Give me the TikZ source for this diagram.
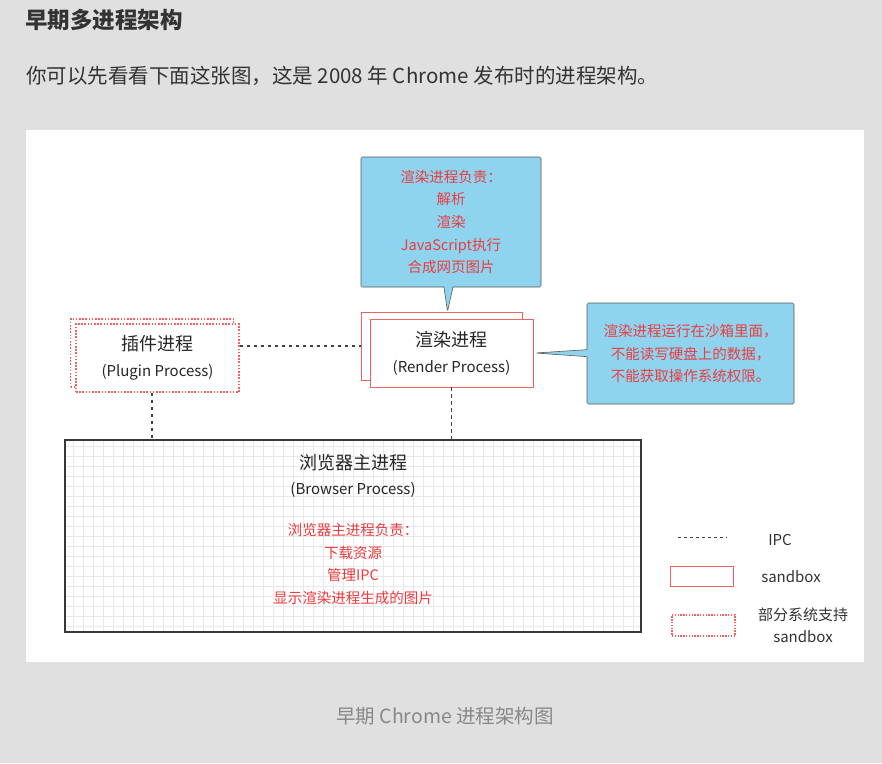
\documentclass[tikz,border=0pt]{standalone}
\usepackage{fontspec}
\setmainfont{Noto Sans CJK SC}
\usetikzlibrary{positioning}
\usetikzlibrary{shapes.callouts}
\definecolor{pagegray}{RGB}{224,224,224}
\definecolor{inkgray}{RGB}{51,51,51}
\definecolor{captiongray}{RGB}{136,136,136}
\definecolor{notered}{RGB}{236,60,64}
\definecolor{boxred}{RGB}{240,98,98}
\definecolor{noteblue}{RGB}{143,212,238}
\tikzset{
    proc/.style={draw=boxred, fill=white, line width=0.9pt, minimum width=163pt, minimum height=68pt, inner sep=0pt},
    partproc/.style={proc, dash pattern=on 1.6pt off 1.6pt, line width=1.3pt},
    proctext/.style={align=center, text=black!85, font=\fontsize{15}{26}\selectfont},
    ipc/.style={black!75, line width=1.2pt, dash pattern=on 3.4pt off 3.6pt},
    note/.style={rectangle callout, fill=noteblue, draw=black!65, line width=0.6pt, rounded corners=1.5pt,
        text=notered, align=center, inner sep=0pt, font=\fontsize{14.5}{22.7}\selectfont},
    gridline/.style={black!9, line width=0.45pt, step=10pt},
    legendtext/.style={text=inkgray, font=\fontsize{15}{22}\selectfont, align=center},
}
\newcommand{\bigline}[1]{{\fontsize{18}{26}\selectfont #1}}
\begin{document}
\begin{tikzpicture}[x=1pt, y=-1pt]
    \useasboundingbox[fill=pagegray] (0,0) rectangle (882,763);
    \node[anchor=west, inner sep=0pt, text=inkgray, font=\fontsize{22.5}{24}\selectfont\bfseries] (heading) at (25,20) {早期多进程架构};
    \node[anchor=west, inner sep=0pt, text=inkgray, font=\fontsize{20.5}{22}\selectfont] (intro) at (26,76) {你可以先看看下面这张图，这是 2008 年 Chrome 发布时的进程架构。};
    \fill[white] (26,130) rectangle (864,662);

    % processes
    \node[partproc] (pluginB) at (152,353) {};
    \node[partproc, proctext] (pluginF) at (157.5,358) {\bigline{插件进程}\\(Plugin Process)};
    \node[proc, minimum width=161pt] (renderB) at (441.5,346) {};
    \node[proc, proctext] (renderF) at (451.5,353) {\bigline{渲染进程}\\(Render Process)};
    \node[draw=black!78, line width=1.5pt, minimum width=576pt, minimum height=192pt, fill=white,
        path picture={\draw[gridline] (path picture bounding box.south west) grid (path picture bounding box.north east);}] (browser) at (353,536) {};
    \node[proctext, font=\fontsize{15}{25}\selectfont] (browsertitle) at (353,475.5) {\bigline{浏览器主进程}\\(Browser Process)};
    \node[align=center, text=notered, font=\fontsize{14.5}{22.7}\selectfont] (browserjob) at (353,564) {浏览器主进程负责：\\下载资源\\管理IPC\\显示渲染进程生成的图片};

    % ipc
    \draw[ipc] (renderB.west -| pluginF.east) -- (renderB.west);
    \draw[ipc] (pluginB.south |- pluginF.south) -- (pluginB.south |- browser.north);
    \draw[ipc] (renderF.south) -- (renderF.south |- browser.north);

    % notes
    \node[note, minimum width=180pt, minimum height=130pt, callout pointer width=9pt,
        callout absolute pointer={([xshift=6pt]renderB.north)}] (rendernote) at (451,222)
        {渲染进程负责：\\解析\\渲染\\JavaScript执行\\合成网页图片};
    \node[note, minimum width=207pt, minimum height=101pt, callout pointer width=7pt,
        callout absolute pointer={([xshift=2pt]renderF.east)}] (sandboxnote) at (690.5,353.5)
        {渲染进程运行在沙箱里面，\\不能读写硬盘上的数据，\\不能获取操作系统权限。};

    % legend
    \coordinate (ipcA) at (678,537);
    \coordinate (ipcB) at (727,537);
    \draw[ipc, line width=1pt, dash pattern=on 2.6pt off 3.4pt] (ipcA) -- (ipcB);
    \node[legendtext] (ipclabel) at (780,540) {IPC};
    \node[draw=boxred, line width=0.9pt, minimum width=63pt, minimum height=20pt, inner sep=0pt] (sandboxkey) at (701.5,576) {};
    \node[legendtext] (sandboxlabel) at (791,577) {sandbox};
    \node[draw=boxred, dash pattern=on 1.4pt off 1.4pt, line width=1.1pt, minimum width=63pt, minimum height=21pt, inner sep=0pt] (partkey) at (703.5,625.5) {};
    \node[legendtext] (partlabel) at (803,625) {部分系统支持\\sandbox};

    \node[text=captiongray, font=\fontsize{19.5}{22}\selectfont] (caption) at (445,716) {早期 Chrome 进程架构图};
\end{tikzpicture}
\end{document}
